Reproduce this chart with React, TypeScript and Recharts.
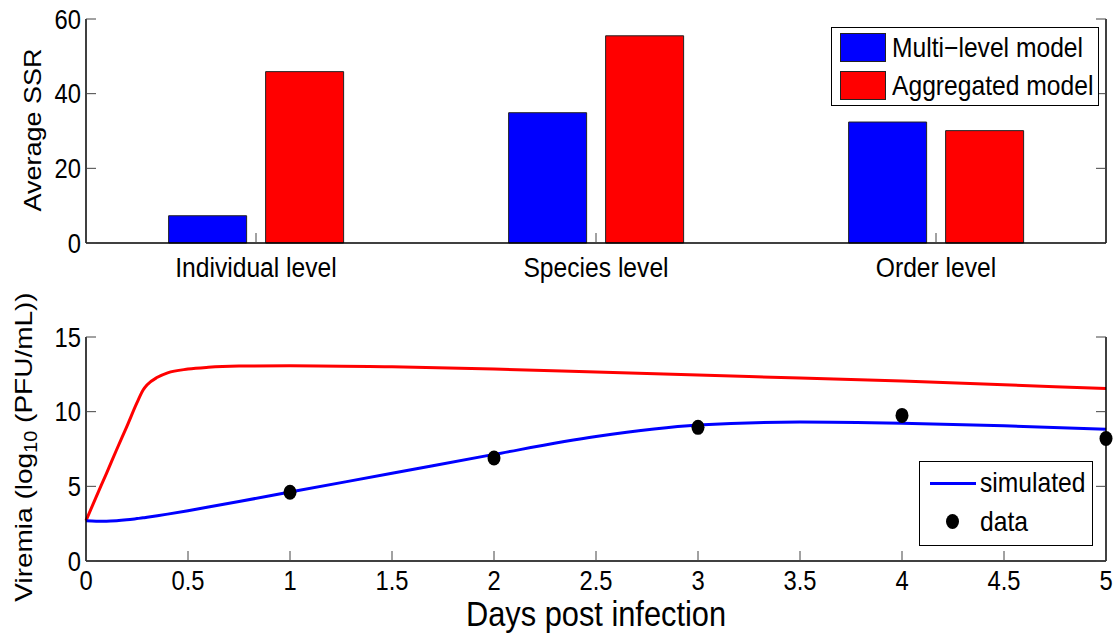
import React from "react";
import {
  BarChart,
  Bar,
  XAxis,
  YAxis,
  Legend,
  ComposedChart,
  Line,
  Scatter,
} from "recharts";

const FONT = '"Liberation Sans", Arial, Helvetica, sans-serif';
const SX = 0.88; // the source figure is squeezed a bit horizontally
const BLUE = "#0000ff";
const RED = "#ff0000";

// top panel: average SSR per level
const levels = ["Individual level", "Species level", "Order level"];
const multiLevelSSR = [7.3, 34.9, 32.4];
const aggregatedSSR = [45.9, 55.5, 30.1];
const ssrTicks = [0, 20, 40, 60];

// bottom panel: viremia curves
const days = [0, 0.05, 0.1, 0.15, 0.2, 0.25, 0.28, 0.3, 0.35, 0.4, 0.5, 0.6, 0.75, 1, 1.5, 2, 2.5, 3, 3.5, 4, 4.5, 5];
const aggregatedCurve = [2.7, 4.3, 5.85, 7.45, 9.0, 10.6, 11.45, 11.8, 12.3, 12.6, 12.85, 12.97, 13.05, 13.08, 13.0, 12.85, 12.65, 12.45, 12.25, 12.05, 11.8, 11.55];
const simulatedCurve = [2.7, 2.67, 2.67, 2.7, 2.76, 2.84, 2.89, 2.93, 3.03, 3.14, 3.37, 3.61, 3.98, 4.62, 5.87, 7.14, 8.33, 9.1, 9.3, 9.22, 9.05, 8.82];
const dataDays = [1, 2, 3, 4, 5];
const dataViremia = [4.6, 6.9, 8.95, 9.75, 8.2];
const dayTicks = [0, 0.5, 1, 1.5, 2, 2.5, 3, 3.5, 4, 4.5, 5];
const viremiaTicks = [0, 5, 10, 15];

const barData = levels.map((name, i) => ({
  name,
  multi: multiLevelSSR[i],
  aggregated: aggregatedSSR[i],
}));
const curveData = days.map((day, i) => ({
  day,
  aggregated: aggregatedCurve[i],
  simulated: simulatedCurve[i],
}));
const dotData = dataDays.map((day, i) => ({ day, v: dataViremia[i] }));

const TICK_LEN = 10;
const TICK_COLOR = "#444";
const AXIS = { stroke: "#000", strokeWidth: 1.5 };

const label = (x: number, y: number, anchor: string, text: any, size: number) => (
  <text
    transform={`translate(${x},${y}) scale(${SX},1)`}
    textAnchor={anchor}
    dominantBaseline="central"
    fontFamily={FONT}
    fontSize={size}
    fill="#000"
  >
    {text}
  </text>
);

// ticks point inward, matlab style
const bottomTick = (gap: number, size: number) => (p: any) => (
  <g>
    <line x1={p.x} x2={p.x} y1={p.y} y2={p.y - TICK_LEN} stroke={TICK_COLOR} />
    {label(p.x, p.y + gap, "middle", p.payload.value, size)}
  </g>
);
const topTick = (p: any) => (
  <line x1={p.x} x2={p.x} y1={p.y} y2={p.y + TICK_LEN} stroke={TICK_COLOR} />
);
const leftTick = (p: any) => (
  <g>
    <line x1={p.x} x2={p.x + TICK_LEN} y1={p.y} y2={p.y} stroke={TICK_COLOR} />
    {label(p.x - 5, p.y, "end", p.payload.value, 27)}
  </g>
);
const rightTick = (p: any) => (
  <line x1={p.x} x2={p.x - TICK_LEN} y1={p.y} y2={p.y} stroke={TICK_COLOR} />
);

const legendText: React.CSSProperties = {
  fontFamily: FONT,
  fontSize: 28,
  lineHeight: 1,
  whiteSpace: "nowrap",
  display: "inline-block",
  transform: `scaleX(${SX})`,
  transformOrigin: "left center",
};

const barLegend = [
  { name: "Multi\u2212level model", color: BLUE },
  { name: "Aggregated model", color: RED },
];

const BarLegendBox = () => (
  <div
    style={{
      width: 268,
      height: 79,
      boxSizing: "border-box",
      border: "1px solid #000",
      background: "#fff",
      padding: "5px 0 0 8px",
    }}
  >
    {barLegend.map((e) => (
      <div key={e.name} style={{ display: "flex", alignItems: "center", height: 29, marginBottom: 9 }}>
        <div
          style={{
            width: 46,
            height: 29,
            boxSizing: "border-box",
            background: e.color,
            border: "1px solid #222",
            flex: "none",
          }}
        />
        <span style={{ ...legendText, marginLeft: 6 }}>{e.name}</span>
      </div>
    ))}
  </div>
);

const CurveLegendBox = () => (
  <div
    style={{
      width: 174,
      height: 85,
      boxSizing: "border-box",
      border: "1px solid #000",
      background: "#fff",
      position: "relative",
    }}
  >
    <div style={{ position: "absolute", left: 10, top: 20, width: 46, height: 3, background: BLUE }} />
    <span style={{ ...legendText, position: "absolute", left: 60, top: 7 }}>simulated</span>
    <div
      style={{
        position: "absolute",
        left: 26,
        top: 52,
        width: 13,
        height: 15,
        borderRadius: "50%",
        background: "#000",
      }}
    />
    <span style={{ ...legendText, position: "absolute", left: 60, top: 46 }}>data</span>
  </div>
);

export default function App() {
  return (
    <div style={{ position: "absolute", left: 0, top: 0, width: 1118, height: 639, background: "#fff" }}>
      <div style={{ position: "absolute", left: 0, top: 0 }}>
        <BarChart
          width={1118}
          height={290}
          data={barData}
          margin={{ top: 19, right: 0, bottom: 0, left: 0 }}
          barCategoryGap="24.3%"
          barGap={19}
        >
          <XAxis
            dataKey="name"
            height={47}
            axisLine={AXIS}
            tickLine={false}
            tickSize={0}
            tickMargin={0}
            interval={0}
            tick={bottomTick(24, 28)}
          />
          <XAxis
            xAxisId="top"
            orientation="top"
            dataKey="name"
            height={0}
            axisLine={AXIS}
            tickLine={false}
            tickSize={0}
            tickMargin={0}
            interval={0}
            tick={topTick}
          />
          <YAxis
            width={86}
            domain={[0, 60]}
            ticks={ssrTicks}
            interval={0}
            axisLine={AXIS}
            tickLine={false}
            tickSize={0}
            tickMargin={0}
            tick={leftTick}
            label={(p: any) => {
              const vb = p.viewBox;
              return (
                <text
                  transform={`translate(${vb.x + 33},${vb.y + vb.height / 2 - 1}) scale(${SX},1) rotate(-90)`}
                  textAnchor="middle"
                  dominantBaseline="central"
                  fontFamily={FONT}
                  fontSize={27}
                  fill="#000"
                >
                  Average SSR
                </text>
              );
            }}
          />
          <YAxis
            yAxisId="right"
            orientation="right"
            width={12}
            domain={[0, 60]}
            allowDataOverflow
            ticks={ssrTicks}
            interval={0}
            axisLine={AXIS}
            tickLine={false}
            tickSize={0}
            tickMargin={0}
            tick={rightTick}
          />
          <Legend
            layout="vertical"
            align="center"
            verticalAlign="middle"
            wrapperStyle={{ left: 831, top: 27, width: 268, height: 79 }}
            content={() => <BarLegendBox />}
          />
          <Bar dataKey="multi" name="Multi-level model" fill={BLUE} stroke="#222" strokeWidth={1} isAnimationActive={false} />
          <Bar dataKey="aggregated" name="Aggregated model" fill={RED} stroke="#222" strokeWidth={1} isAnimationActive={false} />
        </BarChart>
      </div>

      <div style={{ position: "absolute", left: 0, top: 290 }}>
        <ComposedChart
          width={1118}
          height={349}
          data={curveData}
          margin={{ top: 47, right: 0, bottom: 0, left: 0 }}
        >
          <XAxis
            dataKey="day"
            type="number"
            domain={[0, 5]}
            ticks={dayTicks}
            interval={0}
            height={78}
            axisLine={AXIS}
            tickLine={false}
            tickSize={0}
            tickMargin={0}
            tick={bottomTick(19, 27)}
            label={(p: any) => {
              const vb = p.viewBox;
              return (
                <text
                  transform={`translate(${vb.x + vb.width / 2},${vb.y + 53}) scale(${SX},1)`}
                  textAnchor="middle"
                  dominantBaseline="central"
                  fontFamily={FONT}
                  fontSize={35}
                  fill="#000"
                >
                  Days post infection
                </text>
              );
            }}
          />
          <XAxis
            xAxisId="top"
            orientation="top"
            type="number"
            domain={[0, 5]}
            allowDataOverflow
            ticks={dayTicks}
            interval={0}
            height={0}
            axisLine={AXIS}
            tickLine={false}
            tickSize={0}
            tickMargin={0}
            tick={topTick}
          />
          <YAxis
            type="number"
            width={86}
            domain={[0, 15]}
            ticks={viremiaTicks}
            interval={0}
            axisLine={AXIS}
            tickLine={false}
            tickSize={0}
            tickMargin={0}
            tick={leftTick}
            label={(p: any) => {
              const vb = p.viewBox;
              return (
                <text
                  transform={`translate(${vb.x + 24},${vb.y + vb.height / 2 - 2}) scale(${SX},1) rotate(-90)`}
                  textAnchor="middle"
                  dominantBaseline="central"
                  fontFamily={FONT}
                  fontSize={28}
                  fill="#000"
                >
                  Viremia (log
                  <tspan dy={7} fontSize={20}>10</tspan>
                  <tspan dy={-7}> (PFU/mL))</tspan>
                </text>
              );
            }}
          />
          <YAxis
            yAxisId="right"
            orientation="right"
            type="number"
            width={12}
            domain={[0, 15]}
            allowDataOverflow
            ticks={viremiaTicks}
            interval={0}
            axisLine={AXIS}
            tickLine={false}
            tickSize={0}
            tickMargin={0}
            tick={rightTick}
          />
          <Legend
            layout="vertical"
            align="center"
            verticalAlign="middle"
            wrapperStyle={{ left: 919, top: 171, width: 174, height: 85 }}
            content={() => <CurveLegendBox />}
          />
          <Line
            type="monotone"
            dataKey="aggregated"
            stroke={RED}
            strokeWidth={3}
            dot={false}
            activeDot={false}
            isAnimationActive={false}
          />
          <Line
            type="monotone"
            dataKey="simulated"
            name="simulated"
            stroke={BLUE}
            strokeWidth={3}
            dot={false}
            activeDot={false}
            isAnimationActive={false}
          />
          <Scatter
            name="data"
            data={dotData}
            dataKey="v"
            fill="#000"
            isAnimationActive={false}
            shape={(p: any) => <ellipse cx={p.cx} cy={p.cy} rx={6.5} ry={7.5} fill="#000" />}
          />
        </ComposedChart>
      </div>
    </div>
  );
}
